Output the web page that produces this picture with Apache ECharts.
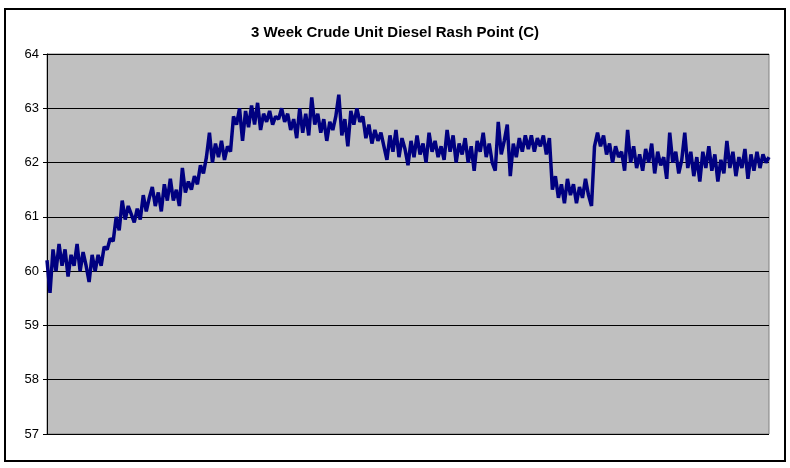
<!DOCTYPE html>
<html>
<head>
<meta charset="utf-8">
<script src="https://cdn.jsdelivr.net/npm/echarts@6/dist/echarts.min.js"></script>
<style>
  html, body { margin: 0; padding: 0; background: #fff; }
  #main { width: 790px; height: 468px; }
</style>
</head>
<body>
<div id="main"></div>
<script>
// readings across the 3 weeks, left to right
var flashPoint = [
  60.2, 59.6, 60.4, 60.0, 60.5, 60.1, 60.4, 59.9, 60.3, 60.1,
  60.5, 60.0, 60.35, 60.1, 59.8, 60.3, 60.0, 60.3, 60.1, 60.45,
  60.4, 60.6, 60.55, 61.0, 60.75, 61.3, 60.95, 61.2, 61.05, 60.9,
  61.15, 60.95, 61.4, 61.1, 61.35, 61.55, 61.2, 61.45, 61.1, 61.6,
  61.3, 61.7, 61.3, 61.5, 61.2, 61.9, 61.45, 61.65, 61.5, 61.75,
  61.6, 61.95, 61.8, 62.1, 62.55, 62.0, 62.35, 62.1, 62.4, 62.05,
  62.3, 62.2, 62.85, 62.7, 63.0, 62.4, 62.95, 62.65, 63.05, 62.7,
  63.1, 62.6, 62.9, 62.75, 62.95, 62.7, 62.85, 62.8, 63.0, 62.75,
  62.9, 62.6, 62.8, 62.45, 63.0, 62.55, 62.9, 62.5, 63.2, 62.7,
  62.9, 62.55, 62.8, 62.4, 62.75, 62.6, 62.85, 63.25, 62.5, 62.8,
  62.3, 62.95, 62.7, 63.0, 62.75, 62.85, 62.45, 62.7, 62.35, 62.6,
  62.4, 62.55, 62.3, 62.05, 62.5, 62.2, 62.6, 62.1, 62.45, 62.25,
  61.95, 62.4, 62.1, 62.5, 62.15, 62.35, 62.0, 62.55, 62.2, 62.4,
  62.1, 62.3, 62.05, 62.6, 62.2, 62.5, 62.0, 62.35, 62.15, 62.45,
  62.0, 62.3, 61.85, 62.4, 62.2, 62.55, 62.1, 62.35, 62.0, 61.85,
  62.75, 62.15, 62.4, 62.7, 61.75, 62.35, 62.1, 62.45, 62.2, 62.5,
  62.25, 62.5, 62.2, 62.45, 62.3, 62.5, 62.15, 62.45, 61.5, 61.75,
  61.35, 61.6, 61.25, 61.7, 61.4, 61.6, 61.25, 61.55, 61.35, 61.7,
  61.4, 61.2, 62.3, 62.55, 62.3, 62.5, 62.15, 62.35, 62.0, 62.3,
  62.1, 62.2, 61.85, 62.6, 62.0, 62.3, 61.9, 62.15, 61.85, 62.25,
  62.0, 62.35, 61.8, 62.2, 61.95, 62.1, 61.7, 62.55, 62.0, 62.2,
  61.8, 62.05, 62.55, 61.9, 62.2, 61.75, 62.1, 61.65, 62.2, 61.9,
  62.3, 61.85, 62.15, 61.65, 62.05, 61.8, 62.4, 61.9, 62.2, 61.75,
  62.1, 61.9, 62.25, 61.7, 62.15, 61.85, 62.2, 61.9, 62.15, 62.0,
  62.1
];
var yTicks = [57, 58, 59, 60, 61, 62, 63, 64];
var samples = flashPoint.map(function (v, i) { return i + 1; });

var myChart = echarts.init(document.getElementById('main'));
myChart.setOption({
    animation: false,
    backgroundColor: '#ffffff',
    title: {
        text: '3 Week Crude Unit Diesel Rash Point (C)',
        left: 'center',
        top: 20,
        textStyle: { fontFamily: 'Liberation Sans, Arial', fontSize: 15, fontWeight: 'bold', color: '#000' }
    },
    graphic: [{
        type: 'rect',
        shape: { x: 5, y: 9, width: 780, height: 452 },
        style: { fill: 'none', stroke: '#000', lineWidth: 2 }
    }],
    grid: {
        left: 47, top: 54, right: 21, bottom: 34,
        show: true,
        backgroundColor: '#c0c0c0',
        borderColor: '#808080',
        borderWidth: 1
    },
    xAxis: {
        type: 'category',
        data: samples,
        boundaryGap: false,
        axisLine: { show: false },
        axisTick: { show: false },
        axisLabel: { show: false },
        splitLine: { show: false }
    },
    yAxis: {
        type: 'value',
        min: yTicks[0],
        max: yTicks[yTicks.length - 1],
        interval: 1,
        axisLine: { show: true, lineStyle: { color: '#000', width: 1 } },
        axisTick: { show: true, inside: false, length: 4, lineStyle: { color: '#000' } },
        axisLabel: { fontFamily: 'Liberation Sans, Arial', fontSize: 13, color: '#000', margin: 8 },
        splitLine: { show: true, lineStyle: { color: '#000', width: 1 } }
    },
    series: [{
        type: 'line',
        data: flashPoint,
        symbol: 'none',
        lineStyle: { color: '#000080', width: 3.5 },
        itemStyle: { color: '#000080' }
    }]
});
</script>
</body>
</html>
